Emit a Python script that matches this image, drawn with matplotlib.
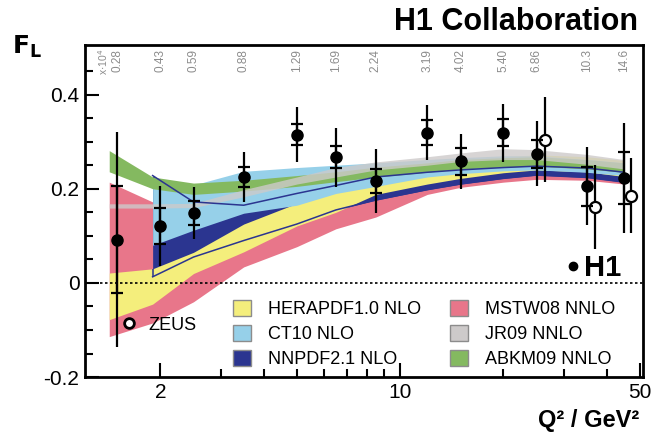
import matplotlib
matplotlib.use('Agg')
import matplotlib.pyplot as plt
import numpy as np
from matplotlib.patches import Patch
from matplotlib.lines import Line2D

plt.rcParams['font.family'] = ['Liberation Sans', 'DejaVu Sans']

# H1 measurement of F_L
q2_h1 = [1.5, 2.0, 2.5, 3.5, 5.0, 6.5, 8.5, 12, 15, 20, 25, 35, 45]
fl_h1 = [0.092, 0.121, 0.149, 0.225, 0.315, 0.267, 0.216, 0.319, 0.258, 0.319, 0.274, 0.205, 0.223]
stat_h1 = [0.114, 0.039, 0.025, 0.022, 0.022, 0.024, 0.025, 0.026, 0.028, 0.029, 0.030, 0.041, 0.056]
tot_h1 = [0.228, 0.085, 0.055, 0.053, 0.059, 0.063, 0.068, 0.058, 0.058, 0.062, 0.069, 0.083, 0.117]
x_labels = ['0.28', '0.43', '0.59', '0.88', '1.29', '1.69', '2.24',
            '3.19', '4.02', '5.40', '6.86', '10.3', '14.6']

# ZEUS measurement
q2_zeus = [26.5, 37, 47]
fl_zeus = [0.304, 0.161, 0.185]
err_zeus = [0.09, 0.09, 0.08]

# PDF predictions (lower / upper edge of each band)
q2_band = [1.42, 1.9, 2.5, 3.5, 5.0, 6.5, 8.5, 12, 15, 20, 25, 35, 45]
nan = np.nan
hera_lo = [-0.078, -0.045, 0.020, 0.066, 0.121, 0.150, 0.188, 0.210, 0.222, 0.234, 0.240, 0.236, 0.226]
hera_hi = [0.021, 0.030, 0.065, 0.125, 0.169, 0.200, 0.215, 0.248, 0.258, 0.268, 0.272, 0.268, 0.260]
ct10_lo = [nan, 0.080, 0.112, 0.148, 0.165, 0.190, 0.205, 0.225, 0.232, 0.238, 0.240, 0.235, 0.228]
ct10_hi = [nan, 0.205, 0.208, 0.237, 0.245, 0.250, 0.255, 0.262, 0.266, 0.270, 0.270, 0.262, 0.255]
nnpdf_lo = [nan, 0.013, 0.055, 0.090, 0.125, 0.155, 0.176, 0.198, 0.210, 0.222, 0.229, 0.224, 0.214]
nnpdf_hi = [nan, 0.228, 0.172, 0.165, 0.190, 0.207, 0.225, 0.235, 0.240, 0.245, 0.248, 0.244, 0.235]
mstw_lo = [-0.114, -0.085, -0.040, 0.034, 0.077, 0.115, 0.140, 0.188, 0.203, 0.214, 0.220, 0.218, 0.210]
mstw_hi = [0.214, 0.172, 0.170, 0.170, 0.180, 0.190, 0.200, 0.225, 0.235, 0.245, 0.250, 0.248, 0.240]
jr09_lo = [0.159, 0.159, 0.160, 0.183, 0.210, 0.225, 0.240, 0.250, 0.258, 0.262, 0.262, 0.252, 0.242]
jr09_hi = [0.168, 0.168, 0.169, 0.198, 0.225, 0.245, 0.257, 0.268, 0.276, 0.285, 0.283, 0.273, 0.262]
abkm_lo = [0.236, 0.200, 0.188, 0.195, 0.205, 0.215, 0.225, 0.235, 0.242, 0.246, 0.248, 0.242, 0.235]
abkm_hi = [0.281, 0.225, 0.212, 0.218, 0.228, 0.236, 0.246, 0.255, 0.262, 0.266, 0.268, 0.262, 0.255]

c_hera = '#f4ee7c'
c_ct10 = '#96d0e9'
c_nnpdf = '#2b3590'
c_mstw = '#e8768a'
c_jr09 = '#cdcaca'
c_abkm = '#84b960'


def main():
    fig = plt.figure(figsize=(6.54, 4.38), dpi=100)
    ax = fig.add_axes([0.130, 0.139, 0.853, 0.758])

    ax.fill_between(q2_band, mstw_lo, mstw_hi, color=c_mstw, lw=0, zorder=1)
    ax.fill_between(q2_band, nnpdf_lo, nnpdf_hi, color=c_nnpdf, lw=0, zorder=2)
    ax.fill_between(q2_band, hera_lo, hera_hi, color=c_hera, lw=0, zorder=3)
    ax.fill_between(q2_band, ct10_lo, ct10_hi, color=c_ct10, lw=0, zorder=4)
    ax.fill_between(q2_band, abkm_lo, abkm_hi, color=c_abkm, lw=0, zorder=5)
    ax.fill_between(q2_band, jr09_lo, jr09_hi, color=c_jr09, lw=0, alpha=0.8, zorder=6)
    # NNPDF band outline
    ax.plot(q2_band, nnpdf_hi, color=c_nnpdf, lw=1.1, zorder=7)
    ax.plot(q2_band, nnpdf_lo, color=c_nnpdf, lw=1.1, zorder=7)
    ax.vlines(q2_band[1], nnpdf_lo[1], hera_hi[1], color=c_nnpdf, lw=1.1, zorder=7)

    ax.axhline(0, color='black', ls=(0, (1.5, 1.5)), lw=1.2, zorder=8)

    # ZEUS
    ax.errorbar(q2_zeus, fl_zeus, yerr=err_zeus, fmt='o', ms=8, mfc='white', mec='black',
                mew=1.6, ecolor='black', elinewidth=1.6, zorder=10)
    # H1: total errors + statistical ticks
    ax.errorbar(q2_h1, fl_h1, yerr=tot_h1, fmt='none', ecolor='black', elinewidth=1.6, zorder=10)
    ax.errorbar(q2_h1, fl_h1, yerr=stat_h1, fmt='o', ms=8, color='black', ecolor='black',
                elinewidth=1.6, capsize=4.5, capthick=1.6, zorder=11)

    # x values on top
    for q, lab in zip(q2_h1, x_labels):
        ax.text(q, 0.497, lab, rotation=90, ha='center', va='top', fontsize=8.5, color='#8c8c8c')
    ax.text(1.36, 0.497, r'x$\cdot$10$^4$', rotation=90, ha='center', va='top', fontsize=7.5,
            color='#8c8c8c')

    ax.set_xscale('log')
    ax.set_xlim(1.207, 51)
    ax.set_ylim(-0.2, 0.505)
    ax.set_xticks([2, 10, 50])
    ax.set_xticklabels(['2', '10', '50'])
    ax.set_xticks([3, 4, 5, 6, 7, 8, 9, 20, 30, 40], minor=True)
    ax.xaxis.set_minor_formatter(plt.NullFormatter())
    ax.set_yticks([-0.2, 0, 0.2, 0.4])
    ax.set_yticklabels(['-0.2', '0', '0.2', '0.4'])
    ax.set_yticks(np.arange(-0.2, 0.5, 0.05), minor=True)
    ax.tick_params(which='both', direction='in', top=False, right=False, width=1.5,
                   labelsize=15, pad=4)
    ax.tick_params(which='major', length=10)
    ax.tick_params(which='minor', length=6)
    for s in ax.spines.values():
        s.set_linewidth(2)

    # PDF legend
    handles = [Patch(facecolor=c, edgecolor='#8c8c8c', lw=1) for c in
               [c_hera, c_ct10, c_nnpdf, c_mstw, c_jr09, c_abkm]]
    labels = ['HERAPDF1.0 NLO', 'CT10 NLO', 'NNPDF2.1 NLO', 'MSTW08 NNLO', 'JR09 NNLO', 'ABKM09 NNLO']
    leg = ax.legend(handles, labels, ncol=2, loc='upper left', frameon=False, fontsize=13,
                    bbox_to_anchor=(233 / 654, 1 - 300 / 438), bbox_transform=fig.transFigure,
                    borderpad=0, borderaxespad=0, handlelength=1.0, handleheight=1.0,
                    handletextpad=0.95, columnspacing=1.6, labelspacing=0.36)
    ax.add_artist(leg)

    # ZEUS legend
    zl = ax.legend([Line2D([], [], ls='none', marker='o', ms=7, mfc='white', mec='black', mew=2)],
                   ['ZEUS'], loc='center left', frameon=False, fontsize=13,
                   bbox_to_anchor=(118 / 654, 1 - 325 / 438), bbox_transform=fig.transFigure,
                   borderpad=0, borderaxespad=0, handlelength=1.2, handletextpad=0.5)
    ax.add_artist(zl)

    # H1 legend
    ax.legend([Line2D([], [], ls='none', marker='o', ms=6, color='black')], ['H1'],
              loc='center left', frameon=False, prop={'size': 21, 'weight': 'bold'},
              bbox_to_anchor=(566 / 654, 1 - 268 / 438), bbox_transform=fig.transFigure,
              borderpad=0, borderaxespad=0, handlelength=0.5, handletextpad=0.1)

    fig.text(0.976, 0.95, 'H1 Collaboration', ha='right', va='center', fontsize=22,
             fontweight='bold', family=['Liberation Sans Narrow', 'Liberation Sans'])
    fig.text(0.018, 0.893, r'$\mathbf{F_L}$', ha='left', va='center', fontsize=18)
    fig.text(0.978, 0.04, 'Q² / GeV²', ha='right', va='center', fontsize=17, fontweight='bold')

    fig.savefig('out.png', dpi=100)


if __name__ == "__main__":
    main()
